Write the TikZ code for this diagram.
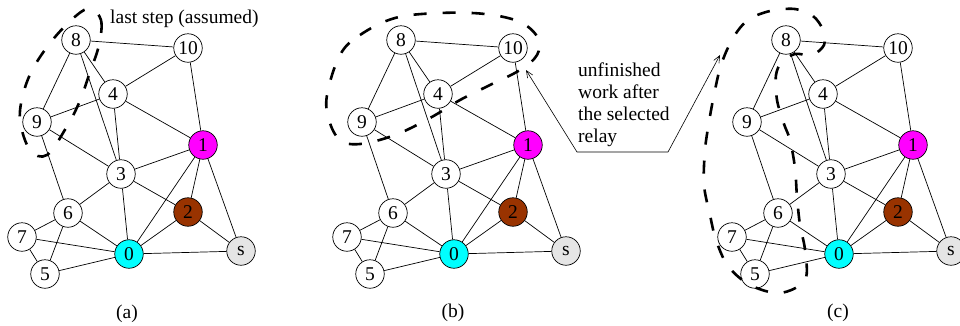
\documentclass[tikz,border=0pt]{standalone}
\usepackage{fontspec}
\setmainfont{Liberation Serif}
\usetikzlibrary{arrows.meta}
\definecolor{nodebrown}{RGB}{153,51,0}
\definecolor{nodegray}{RGB}{229,229,229}
\definecolor{nodemag}{RGB}{255,0,255}
\definecolor{nodecyan}{RGB}{0,255,255}
\newcommand\drawpanel[2]{%
 \begin{scope}[xshift=#2pt]
  \node[vtx] (#1-8) at (76,40) {8};
  \node[vtx] (#1-10) at (188,48) {10};
  \node[vtx] (#1-4) at (113,94) {4};
  \node[vtx] (#1-9) at (37,122) {9};
  \node[vtx,fill=nodemag] (#1-1) at (203,145) {1};
  \node[vtx] (#1-3) at (121,174) {3};
  \node[vtx] (#1-6) at (68,213) {6};
  \node[vtx,fill=nodebrown] (#1-2) at (188,212) {2};
  \node[vtx] (#1-7) at (22,237) {7};
  \node[vtx,fill=nodecyan] (#1-0) at (129,254) {0};
  \node[vtx,fill=nodegray] (#1-s) at (241,251) {s};
  \node[vtx] (#1-5) at (45,274) {5};
  \foreach \u/\v in {8/10,8/9,8/4,8/3,10/4,10/1,4/9,4/1,4/3,9/3,9/6,3/1,3/6,3/2,3/0,1/2,1/0,1/s,2/0,2/s,6/7,6/5,6/0,7/0,7/5,5/0,0/s}
    \draw[edge] (#1-\u) -- (#1-\v);
 \end{scope}}
\begin{document}
\begin{tikzpicture}[x=1pt,y=-1pt,
  vtx/.style={circle,draw,line width=0.7pt,minimum size=28.5pt,inner sep=0pt,fill=white,font=\fontsize{19.5}{22}\selectfont},
  edge/.style={line width=0.7pt},
  grp/.style={line width=2.6pt,dash pattern=on 13pt off 16pt},
  lbl/.style={font=\fontsize{19.5}{21.7}\selectfont,inner sep=0pt},
  arr/.style={line width=0.6pt,{Straight Barb[length=7pt,width=6pt]}-{Straight Barb[length=7pt,width=6pt]}}]
\useasboundingbox (0,0) rectangle (960,325);

\drawpanel{a}{0}
\drawpanel{b}{325}
\drawpanel{c}{710}

% dashed groups
\draw[grp] plot[smooth cycle,tension=0.6] coordinates {(90,9) (101,20) (99,45) (89,75) (79,103) (66,128) (47,155) (30,150) (20,120) (24,91) (35,65) (55,37) (77,15)};
\draw[grp] plot[smooth cycle,tension=0.6] coordinates {(340,55) (360,35) (395,18) (440,13) (485,14) (520,22) (538,38) (537,55) (520,70) (490,85) (460,100) (430,118) (395,135) (360,144) (340,140) (329,120) (327,95)};
\draw[grp] plot[smooth cycle,tension=0.55] coordinates {(805,280) (805,250) (800,225) (797,197) (795,168) (790,140) (784,124) (777,100) (776,75) (782,62) (795,54) (812,55) (824,45) (823,30) (813,16) (795,9) (770,11) (748,20) (733,38) (721,65) (714,95) (709,122) (705,150) (704,185) (710,215) (716,240) (728,266) (750,285) (780,293)};

% texts
\node[lbl,anchor=base west] (ls) at (110,23) {last step (assumed)};
\node[lbl,anchor=north west,align=left] (uw) at (578,63) {unfinished\\work after\\the selected\\relay};
\node[lbl] (la) at (127,314) {(a)};
\node[lbl] (lb) at (453,313) {(b)};
\node[lbl] (lc) at (838,313) {(c)};

% pointer
\coordinate (ul) at (577,152);
\coordinate (ur) at (668,152);
\coordinate (tb) at (526,70);
\coordinate (tc) at (720,55);
\draw[arr] (tb) -- (ul) -- (ur) -- (tc);
\end{tikzpicture}
\end{document}
